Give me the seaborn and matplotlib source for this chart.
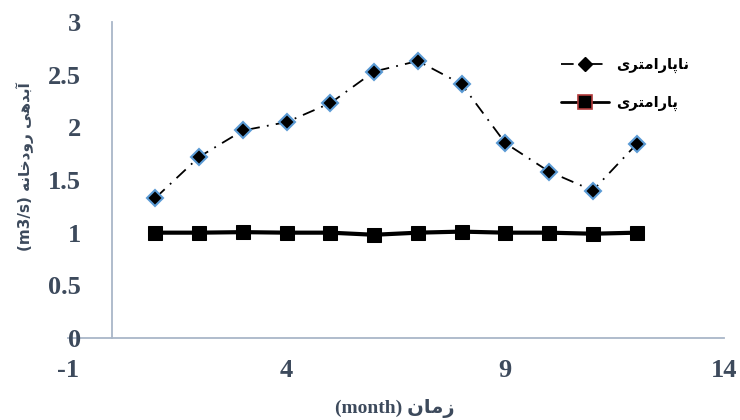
import matplotlib
matplotlib.use("Agg")
import matplotlib.pyplot as plt
import seaborn as sns
import pandas as pd
from matplotlib.lines import Line2D

months = [1, 2, 3, 4, 5, 6, 7, 8, 9, 10, 11, 12]
nonparam = [1.33, 1.72, 1.97, 2.05, 2.23, 2.53, 2.63, 2.41, 1.85, 1.58, 1.40, 1.84]
param = [1.00, 1.00, 1.005, 1.00, 1.00, 0.98, 1.00, 1.01, 1.00, 1.00, 0.99, 1.00]
xticks = [-1, 4, 9, 14]
yticks = [0, 0.5, 1, 1.5, 2, 2.5, 3]
ytick_labels = ["0", "0.5", "1", "1.5", "2", "2.5", "3"]

# Persian labels in visual (shaped, left-to-right) order
lab_nonparam = "\ufbfc\ufeae\ufe98\ufee3\ufe8d\ufead\ufe8e\ufb58\ufe8e\ufee7"   # ناپارامتری
lab_param = "\ufbfc\ufeae\ufe98\ufee3\ufe8d\ufead\ufe8e\ufb58"                   # پارامتری
ylab = "(m3/s) \ufeea\ufee7\ufe8e\ufea7\ufea9\ufeed\ufead \ufbfd\ufeeb\ufeaa\ufe91\ufe81"  # آبدهی رودخانه (m3/s)
xlab = "(month) \ufee5\ufe8e\ufee3\ufeaf"  # زمان (month)

df1 = pd.DataFrame({"month": months, "flow": nonparam})
df2 = pd.DataFrame({"month": months, "flow": param})

sns.set_style("white")
plt.rcParams["font.family"] = ["Liberation Serif", "DejaVu Sans"]

txtc = "#3d4a5c"
axc = "#a9b6c8"

fig = plt.figure(figsize=(7.4, 4.2), dpi=100)
ax = fig.add_axes([68/740, 1-338/420, (724-68)/740, (338-22)/420])

sns.lineplot(data=df1, x="month", y="flow", ax=ax, color="black", lw=1.3,
             linestyle=(0, (7, 4, 1, 4)), marker="D", markersize=8,
             markerfacecolor="black", markeredgecolor="#5b9bd5", markeredgewidth=1.5)
sns.lineplot(data=df2, x="month", y="flow", ax=ax, color="black", lw=3,
             marker="s", markersize=10.5, markerfacecolor="black",
             markeredgecolor="black")

ax.set_xlim(-1, 14)
ax.set_ylim(0, 3)

for s in ["top", "right"]:
    ax.spines[s].set_visible(False)
ax.spines["left"].set_position(("data", 0))
ax.spines["bottom"].set_position(("data", 0))
for s in ["left", "bottom"]:
    ax.spines[s].set_color(axc)
    ax.spines[s].set_linewidth(1.3)
    ax.spines[s].set_clip_on(False)
    ax.spines[s].set_zorder(0.5)

ax.tick_params(axis="y", direction="in", length=5, color=axc, pad=22,
               labelsize=19, labelcolor=txtc)
ax.tick_params(axis="x", length=0, pad=15, labelsize=19, labelcolor=txtc)
ax.set_xticks(xticks)
ax.set_yticks(yticks)
ax.set_xticklabels([str(t) for t in xticks], fontweight="bold")
ax.set_yticklabels(ytick_labels, fontweight="bold")

ax.set_xlabel("")
ax.set_ylabel("")
fig.text(395/740, 1-409/420, xlab, ha="center", va="center", fontsize=14,
         fontweight="bold", color=txtc, family=["Liberation Serif", "DejaVu Sans"])
fig.text(25/740, 1-167/420, ylab, ha="center", va="center", rotation=90,
         fontsize=11, fontweight="bold", color=txtc,
         family=["DejaVu Sans"])

handles = [
    Line2D([], [], color="black", lw=1.3, linestyle=(0, (7, 4, 1, 4)), marker="D",
           markersize=7, markerfacecolor="black", markeredgecolor="black"),
    Line2D([], [], color="black", lw=2, marker="s", markersize=10,
           markerfacecolor="black", markeredgecolor="#b03a3a", markeredgewidth=1.2),
]
leg = fig.legend(handles, [lab_nonparam, lab_param], loc="upper left",
                 bbox_to_anchor=(548/740, 1-44/420), frameon=False,
                 handlelength=3.3, labelspacing=1.5, handletextpad=0.5,
                 prop={"family": ["DejaVu Sans"], "weight": "bold", "size": 10.5})
for t in leg.get_texts():
    t.set_color("black")

fig.savefig("out.png", dpi=100)
